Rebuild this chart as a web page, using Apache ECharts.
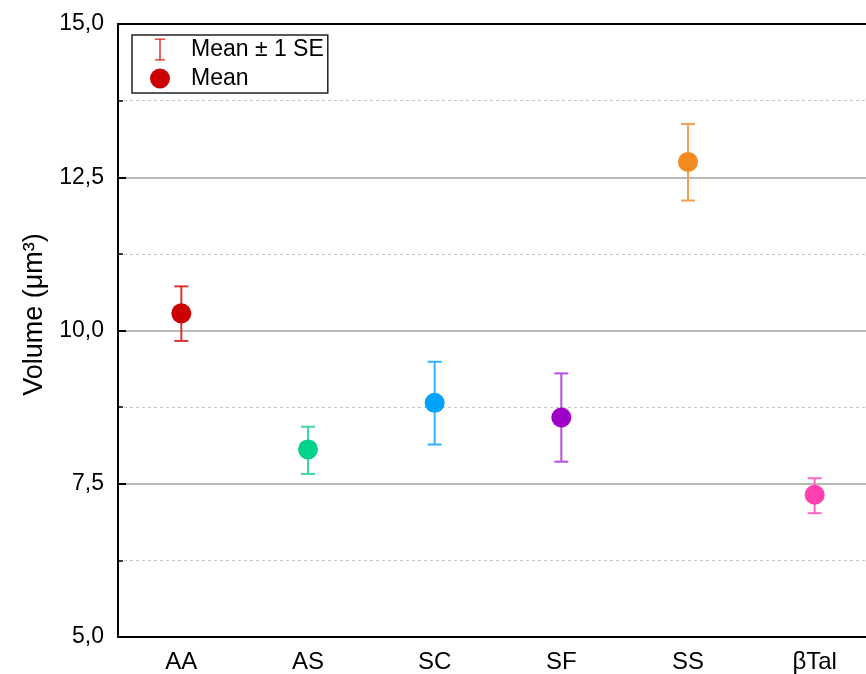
<!DOCTYPE html>
<html>
<head>
<meta charset="utf-8">
<script src="https://cdn.jsdelivr.net/npm/echarts@6/dist/echarts.min.js"></script>
<style>html,body{margin:0;padding:0;background:#fff}#c{width:866px;height:674px}</style>
</head>
<body>
<div id="c"></div>
<script>
const categories = ['AA', 'AS', 'SC', 'SF', 'SS', 'βTal'];
const means = [10.28, 8.06, 8.82, 8.58, 12.75, 7.32];
const upper = [10.72, 8.43, 9.49, 9.30, 13.37, 7.59];
const lower = [9.83, 7.66, 8.14, 7.86, 12.12, 7.02];
const yTicks = [5, 7.5, 10, 12.5, 15];
const markerColors = ['#CC0000', '#00D28A', '#00A2FF', '#9F00C8', '#F28A22', '#FF40B0'];
const barColors = ['#D83434', '#3ADBA2', '#30B4FF', '#B54FE0', '#F5A050', '#FF68C4'];

const FONT = 'Liberation Sans, Arial, sans-serif';
const chart = echarts.init(document.getElementById('c'), null, {renderer: 'canvas'});

const errData = categories.map((c, i) => ({value: [i, upper[i], lower[i]], itemStyle: {color: barColors[i]}}));
const meanData = categories.map((c, i) => ({value: [i, means[i]], itemStyle: {color: markerColors[i]}}));

const option = {
  animation: false,
  backgroundColor: '#fff',
  grid: {left: 118, top: 24, height: 613, width: 760, containLabel: false, outerBoundsMode: 'none'},
  legend: {
    orient: 'vertical',
    left: 132, top: 35,
    itemWidth: 20, itemHeight: 22, itemGap: 6,
    padding: [3, 4, 3, 18],
    borderColor: '#222', borderWidth: 1.5, borderRadius: 0,
    textStyle: {fontFamily: FONT, fontSize: 23, color: '#000', lineHeight: 22, padding: [0, 0, 0, 16]},
    data: [
      {name: 'Mean ± 1 SE', icon: 'path://M0,0h12v1.6h-5.2v22.8h5.2v1.6h-12v-1.6h5.2v-22.8h-5.2z', itemStyle: {color: '#E02020'}},
      {name: 'Mean', icon: 'circle', itemStyle: {color: '#CC0000'}}
    ]
  },
  xAxis: [{
    type: 'category', data: categories, boundaryGap: true,
    axisLine: {show: true, lineStyle: {color: '#000', width: 2}},
    axisTick: {show: false},
    axisLabel: {fontFamily: FONT, fontSize: 24, color: '#000', margin: 13},
    splitLine: {show: false}
  }, {
    type: 'category', data: categories, position: 'top',
    axisLine: {show: true, onZero: false, lineStyle: {color: '#000', width: 2}},
    axisTick: {show: false}, axisLabel: {show: false}
  }],
  yAxis: [{
    type: 'value', min: 5, max: 15, interval: 2.5,
    name: 'Volume (μm³)', nameLocation: 'middle', nameGap: 70,
    nameTextStyle: {fontFamily: FONT, fontSize: 27, color: '#000', padding: [0, 0, 0, 32]},
    axisLine: {show: true, lineStyle: {color: '#000', width: 2}},
    axisTick: {show: true, inside: true, length: 8, lineStyle: {color: '#000', width: 2}},
    minorTick: {show: true, splitNumber: 2, length: 5, lineStyle: {color: '#000', width: 1.5}},
    axisLabel: {fontFamily: FONT, fontSize: 23, color: '#000', margin: 14,
      formatter: v => yTicks.includes(v) ? v.toFixed(1).replace('.', ',') : ''},
    splitLine: {show: true, lineStyle: {color: '#A0A0A0', width: 1.5}},
    minorSplitLine: {show: true, lineStyle: {color: '#C4C4C4', width: 1, type: [3, 3]}}
  }, {
    type: 'value', min: 5, max: 15, interval: 2.5, position: 'right',
    axisLine: {show: true, lineStyle: {color: '#000', width: 2}},
    axisTick: {show: true, inside: true, length: 8, lineStyle: {color: '#000', width: 2}},
    axisLabel: {show: false}, splitLine: {show: false}
  }],
  series: [{
    name: 'Mean ± 1 SE',
    type: 'custom',
    itemStyle: {color: '#E02020'},
    encode: {x: 0, y: [1, 2]},
    renderItem: function (params, api) {
      const hi = api.coord([api.value(0), api.value(1)]);
      const lo = api.coord([api.value(0), api.value(2)]);
      const hw = 7;
      const color = api.visual('color');
      const st = {stroke: color, lineWidth: 2};
      return {
        type: 'group',
        children: [
          {type: 'line', shape: {x1: hi[0], y1: hi[1], x2: lo[0], y2: lo[1]}, style: st},
          {type: 'line', shape: {x1: hi[0] - hw, y1: hi[1], x2: hi[0] + hw, y2: hi[1]}, style: st},
          {type: 'line', shape: {x1: lo[0] - hw, y1: lo[1], x2: lo[0] + hw, y2: lo[1]}, style: st}
        ]
      };
    },
    data: errData,
    z: 2
  }, {
    name: 'Mean',
    type: 'scatter',
    symbol: 'circle', symbolSize: 20,
    itemStyle: {color: '#CC0000', opacity: 1},
    data: meanData,
    z: 3
  }]
};
chart.setOption(option);
</script>
</body>
</html>
